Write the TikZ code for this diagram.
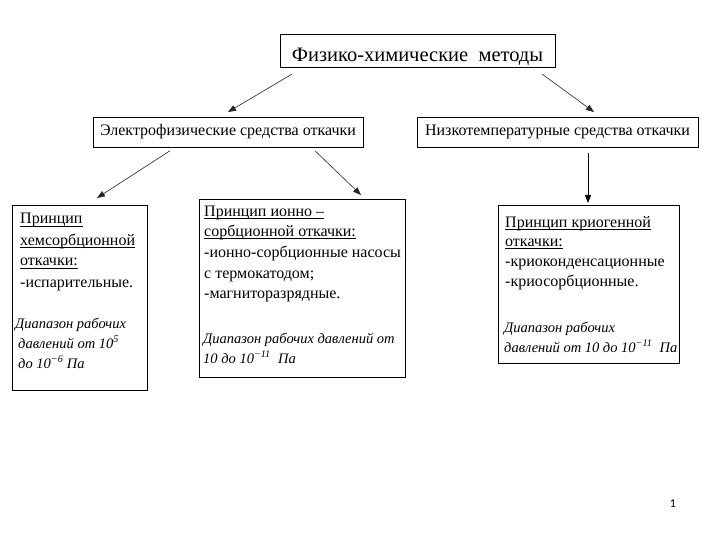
\documentclass[tikz,border=0pt]{standalone}
\usepackage{fontspec}
\setmainfont{Liberation Serif}
\newfontfamily\numfont{Carlito}
\usetikzlibrary{arrows.meta}
\newcommand\myul[1]{\leavevmode\setbox0\hbox{#1}\rlap{\rule[-2.2pt]{\wd0}{0.6pt}}\box0}
\newcommand\upblk[2]{\parbox[t]{200pt}{\raggedright\lineskiplimit=-20pt\fontsize{16}{#1}\selectfont #2}}
\newcommand\itblk[2]{\parbox[t]{200pt}{\raggedright\lineskiplimit=-20pt\fontsize{14.5}{#1}\selectfont\itshape #2}}
\begin{document}
\begin{tikzpicture}[x=1pt,y=-1pt,
  box/.style={draw,line width=0.75pt,inner sep=0pt,anchor=north west},
  arr/.style={-{Triangle[length=8pt,width=6pt]},line width=0.6pt,draw=black!85},
  txt/.style={inner sep=0pt,anchor=base west},
  head/.style={inner sep=0pt,anchor=base,font=\fontsize{16}{18}\selectfont}]
\fill[white] (0,0) rectangle (720,540);
\useasboundingbox (0,0) rectangle (720,540);
% boxes
\node[box,line width=1.1pt,minimum width=275pt,minimum height=33pt] (top) at (280,34) {};
\node[box,minimum width=270pt,minimum height=30pt] (electro) at (93,117) {};
\node[box,minimum width=281pt,minimum height=30pt] (lowtemp) at (417,117) {};
\node[box,minimum width=135pt,minimum height=185pt] (left) at (12,205) {};
\node[box,minimum width=206pt,minimum height=178pt] (middle) at (199,199) {};
\node[box,minimum width=181pt,minimum height=158pt] (right) at (498,205) {};
% headings
\node[inner sep=0pt,anchor=base,font=\fontsize{20.5}{22}\selectfont] (toptxt) at (417.5,62) {Физико-химические\ \ методы};
\node[head] (electrotxt) at (228,136) {Электрофизические средства откачки};
\node[head] (lowtemptxt) at (557.5,136) {Низкотемпературные средства откачки};
% left box
\node[txt] (lefta) at (20,224) {\upblk{21}{\myul{Принцип}\\\myul{хемсорбционной}\\\myul{откачки:}\\-испарительные.}};
\node[txt] (leftb) at (15,328) {\itblk{20}{Диапазон рабочих\\\hspace*{3pt}давлений от 10\textsuperscript{5}\\\hspace*{3pt}до 10\textsuperscript{−6} Па}};
% middle box
\node[txt] (middlea) at (204,216) {\upblk{20.7}{\myul{Принцип ионно –}\\\myul{сорбционной откачки:}\\-ионно-сорбционные насосы\\с термокатодом;\\-магниторазрядные.}};
\node[txt] (middleb) at (203,343) {\itblk{20}{Диапазон рабочих давлений от\\10 до 10\textsuperscript{−11}\ \ Па}};
% right box
\node[txt] (righta) at (505,227) {\upblk{19.7}{\myul{Принцип криогенной}\\\myul{откачки:}\\-криоконденсационные\\-криосорбционные.}};
\node[txt] (rightb) at (504,332) {\itblk{20}{Диапазон рабочих\\давлений от 10 до 10\textsuperscript{−11}\ \ Па}};
% arrows
\draw[arr] ([xshift=12pt,yshift=-6pt]top.south west) -- ([xshift=135pt,yshift=5pt]electro.north west);
\draw[arr] ([xshift=-14pt,yshift=-6pt]top.south east) -- ([xshift=177pt,yshift=5pt]lowtemp.north west);
\draw[arr] ([xshift=77pt,yshift=-3pt]electro.south west) -- ([xshift=85pt,yshift=7pt]left.north west);
\draw[arr] ([xshift=222pt,yshift=-3pt]electro.south west) -- ([xshift=162pt,yshift=4pt]middle.north west);
\draw[arr,draw=black] ([xshift=171pt,yshift=-5pt]lowtemp.south west) -- ([xshift=90pt,yshift=2pt]right.north west);
% page number
\node[inner sep=0pt,font=\numfont\fontsize{12}{14}\selectfont] (pagenum) at (673,504) {1};
\end{tikzpicture}
\end{document}
